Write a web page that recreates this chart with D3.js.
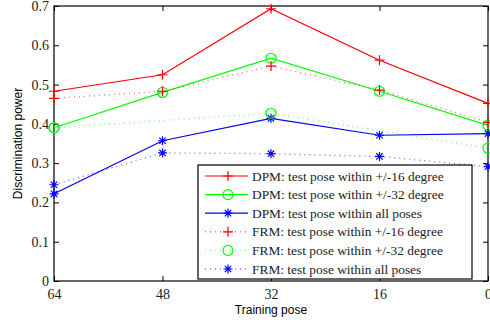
<!DOCTYPE html>
<html>
<head>
<meta charset="utf-8">
<script src="https://cdn.jsdelivr.net/npm/d3@7"></script>
<style>
    body { margin: 0; background: #fff; }
    .tick-label { font-family: "Liberation Serif", "Times New Roman", serif; font-size: 14px; fill: #222; }
    .axis-title { font-family: "Liberation Sans", Arial, sans-serif; font-size: 12px; fill: #000; }
    .legend-text { font-family: "Liberation Serif", "Times New Roman", serif; font-size: 13.4px; fill: #222; }
</style>
</head>
<body>
<div id="chart"></div>
<script>
// training poses along the x axis (reversed)
const poses = [64, 48, 32, 16, 0];
const yTicks = [0, 0.1, 0.2, 0.3, 0.4, 0.5, 0.6, 0.7];

const dpm16 = [0.483, 0.525, 0.693, 0.562, 0.452];
const dpm32 = [0.390, 0.480, 0.567, 0.483, 0.396];
const dpmAll = [0.222, 0.357, 0.414, 0.371, 0.375];
const frm16 = [0.465, 0.483, 0.547, 0.486, 0.404];
// FRM +/-32 only has marked points at 64, 32 and 0
const frm32Poses = [64, 32, 0];
const frm32 = [0.390, 0.427, 0.338];
const frmAll = [0.245, 0.326, 0.324, 0.317, 0.291];

const seriesList = [
    { name: "DPM: test pose within +/-16 degree", x: poses, y: dpm16, color: "#ff0000", dash: null, marker: "plus" },
    { name: "DPM: test pose within +/-32 degree", x: poses, y: dpm32, color: "#00ff00", dash: null, marker: "circle" },
    { name: "DPM: test pose within all poses", x: poses, y: dpmAll, color: "#0000ff", dash: null, marker: "star" },
    { name: "FRM: test pose within +/-16 degree", x: poses, y: frm16, color: "#ff0000", dash: "1,4", marker: "plus" },
    { name: "FRM: test pose within +/-32 degree", x: frm32Poses, y: frm32, color: "#00ff00", dash: "1,4", marker: "circle" },
    { name: "FRM: test pose within all poses", x: poses, y: frmAll, color: "#0000ff", dash: "1,4", marker: "star" }
];

const width = 490, height = 322;
const margin = { top: 6, right: 2, bottom: 41, left: 54 };
const plotW = width - margin.left - margin.right;
const plotH = height - margin.top - margin.bottom;

const svg = d3.select("#chart").append("svg")
    .attr("width", width)
    .attr("height", height);

const plot = svg.append("g")
    .attr("transform", `translate(${margin.left},${margin.top})`);

const xScale = d3.scaleLinear().domain([64, 0]).range([0, plotW]);
const yScale = d3.scaleLinear().domain([0, 0.7]).range([plotH, 0]);

// inward ticks on all four sides, matlab style
const tickLen = 5;
const xAxisB = d3.axisBottom(xScale).tickValues(poses).tickSizeInner(-tickLen).tickSizeOuter(0).tickPadding(8);
const xAxisT = d3.axisTop(xScale).tickValues(poses).tickSizeInner(-tickLen).tickSizeOuter(0).tickFormat("");
const yAxisL = d3.axisLeft(yScale).tickValues(yTicks).tickSizeInner(-tickLen).tickSizeOuter(0).tickPadding(5)
    .tickFormat(d => d === 0 ? "0" : d3.format(".1f")(d));
const yAxisR = d3.axisRight(yScale).tickValues(yTicks).tickSizeInner(-tickLen).tickSizeOuter(0).tickFormat("");

function styleAxis(g) {
    g.select(".domain").remove();
    g.selectAll(".tick line").attr("stroke", "#000");
    g.selectAll(".tick text").attr("class", "tick-label").attr("font-size", null).attr("font-family", null);
}

plot.append("g").attr("transform", `translate(0,${plotH})`).call(xAxisB).call(styleAxis);
plot.append("g").call(xAxisT).call(styleAxis);
plot.append("g").call(yAxisL).call(styleAxis);
plot.append("g").attr("transform", `translate(${plotW},0)`).call(yAxisR).call(styleAxis);

plot.append("rect")
    .attr("width", plotW)
    .attr("height", plotH)
    .attr("fill", "none")
    .attr("stroke", "#000")
    .attr("stroke-width", 1.2);

function drawMarker(g, type, color) {
    if (type === "plus") {
        g.append("path").attr("d", "M-5,0H5M0,-5V5").attr("stroke", color).attr("stroke-width", 1.2).attr("fill", "none");
    } else if (type === "circle") {
        g.append("circle").attr("r", 5).attr("stroke", color).attr("stroke-width", 1.2).attr("fill", "none");
    } else {
        g.append("path").attr("d", "M-4.5,0H4.5M0,-4.5V4.5M-3.2,-3.2L3.2,3.2M-3.2,3.2L3.2,-3.2")
            .attr("stroke", color).attr("stroke-width", 1.2).attr("fill", "none");
    }
}

const line = d3.line().x(d => xScale(d[0])).y(d => yScale(d[1]));

seriesList.forEach(s => {
    const pts = s.x.map((x, i) => [x, s.y[i]]);
    plot.append("path")
        .datum(pts)
        .attr("d", line)
        .attr("fill", "none")
        .attr("stroke", s.color)
        .attr("stroke-width", s.dash ? 1.4 : 1.2)
        .attr("stroke-opacity", s.dash ? 0.55 : 1)
        .attr("stroke-dasharray", s.dash);

    pts.forEach(p => {
        const g = plot.append("g").attr("transform", `translate(${xScale(p[0])},${yScale(p[1])})`);
        drawMarker(g, s.marker, s.color);
    });
});

// legend
const legend = svg.append("g").attr("transform", "translate(198,165)");
legend.append("rect")
    .attr("width", 274)
    .attr("height", 114)
    .attr("fill", "#fff")
    .attr("stroke", "#000")
    .attr("stroke-width", 1.2);

seriesList.forEach((s, i) => {
    const yy = 11 + i * 18.6;
    legend.append("line")
        .attr("x1", 7).attr("x2", 50)
        .attr("y1", yy).attr("y2", yy)
        .attr("stroke", s.color)
        .attr("stroke-width", s.dash ? 1.4 : 1.2)
        .attr("stroke-opacity", s.dash ? 0.55 : 1)
        .attr("stroke-dasharray", s.dash);
    drawMarker(legend.append("g").attr("transform", `translate(30,${yy})`), s.marker, s.color);
    legend.append("text")
        .attr("class", "legend-text")
        .attr("x", 54)
        .attr("y", yy + 4.5)
        .text(s.name);
});

// axis titles
svg.append("text")
    .attr("class", "axis-title")
    .attr("x", margin.left + plotW / 2)
    .attr("y", 314)
    .attr("text-anchor", "middle")
    .text("Training pose");

svg.append("text")
    .attr("class", "axis-title")
    .attr("transform", `translate(22,${margin.top + plotH / 2}) rotate(-90)`)
    .attr("text-anchor", "middle")
    .text("Discrimination power");
</script>
</body>
</html>
